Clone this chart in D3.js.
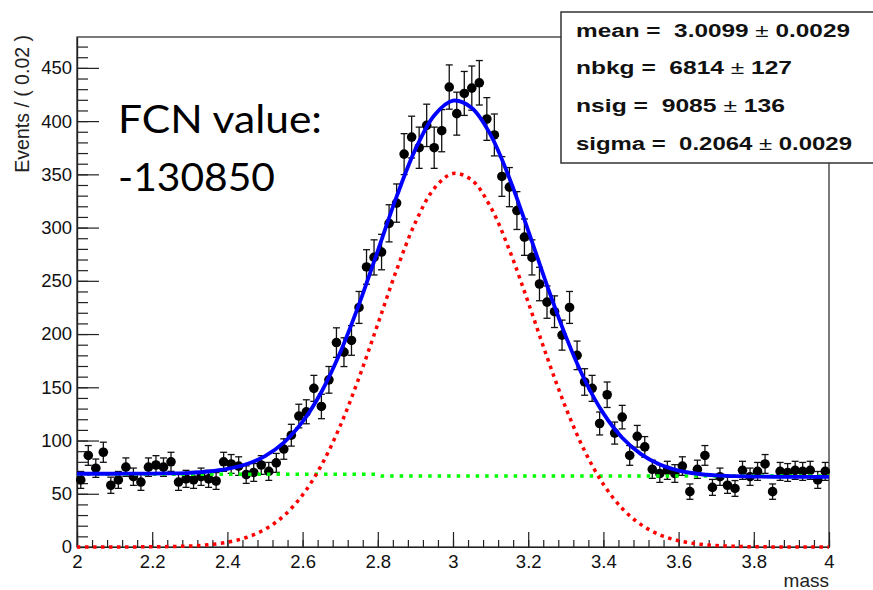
<!DOCTYPE html>
<html>
<head>
<meta charset="utf-8">
<script src="https://cdn.jsdelivr.net/npm/d3@7"></script>
<style>
  body { margin: 0; background: #fff; }
  text { font-family: "Liberation Sans", Arial, sans-serif; }
</style>
</head>
<body>
<div id="chart"></div>
<script>
const MARGIN = {top: 37, right: 44, bottom: 43, left: 77},
WIDTH = 873 - MARGIN.left - MARGIN.right,
HEIGHT = 590 - MARGIN.top - MARGIN.bottom;

// histogram, 100 bins of 0.02 from 2 to 4
const MASS_LO = 2, BIN_W = 0.02;
const counts = [
  63, 86, 74, 89, 58, 63, 75, 66, 61, 75,
  77, 75, 80, 61, 64, 63, 66, 64, 62, 80,
  78, 76, 68, 70, 77, 71, 79, 92, 105, 123,
  127, 149, 132, 157, 192, 183, 194, 225, 263, 272,
  277, 304, 323, 369, 385, 375, 396, 375, 391, 432,
  407, 426, 431, 436, 402, 387, 348, 338, 316, 291,
  272, 247, 230, 221, 199, 225, 180, 155, 149, 116,
  143, 107, 122, 86, 104, 94, 73, 69, 72, 69,
  76, 52, 73, 86, 56, 66, 58, 55, 72, 66,
  71, 78, 52, 71, 70, 72, 71, 72, 63, 71
];

const curveMass = [
  2.00, 2.05, 2.10, 2.15, 2.20, 2.25, 2.30, 2.35, 2.40, 2.45,
  2.50, 2.55, 2.60, 2.65, 2.70, 2.75, 2.80, 2.85, 2.90, 2.95,
  3.00, 3.05, 3.10, 3.15, 3.20, 3.25, 3.30, 3.35, 3.40, 3.45,
  3.50, 3.55, 3.60, 3.65, 3.70, 3.75, 3.80, 3.85, 3.90, 3.95, 4.00
];
const totalFit = [
  68.8, 68.8, 68.8, 68.9, 69.0, 69.2, 69.7, 70.9, 73.3, 77.7,
  85.4, 98.1, 117.7, 145.6, 182.6, 227.8, 278.2, 329.0, 373.4, 405.3,
  419.2, 412.4, 387.1, 346.5, 297.2, 245.7, 197.8, 157.1, 125.5, 102.6,
  87.2, 77.4, 71.8, 68.8, 67.2, 66.5, 66.1, 66.0, 65.9, 65.9, 65.9
];
const sigFit = [
  0.0, 0.0, 0.0, 0.1, 0.2, 0.4, 0.9, 2.1, 4.5, 8.9,
  16.6, 29.3, 48.9, 76.8, 113.8, 159.0, 209.4, 260.2, 304.8, 336.7,
  350.8, 344.6, 319.3, 278.9, 229.8, 178.5, 130.8, 90.3, 58.9, 36.2,
  21.0, 11.4, 5.9, 2.9, 1.3, 0.6, 0.2, 0.1, 0.0, 0.0, 0.0
];
const bkgMass = [2.0, 2.8, 2.81, 4.0];
const bkgFit = [68.3, 68.3, 66.8, 66.8];

const xTicks = [2, 2.2, 2.4, 2.6, 2.8, 3, 3.2, 3.4, 3.6, 3.8, 4];
const xTickLabels = ["2", "2.2", "2.4", "2.6", "2.8", "3", "3.2", "3.4", "3.6", "3.8", "4"];
const yTicks = [0, 50, 100, 150, 200, 250, 300, 350, 400, 450];
const yTickLabels = ["0", "50", "100", "150", "200", "250", "300", "350", "400", "450"];

const statLines = [
  {name: "mean", val: "3.0099", err: "0.0029"},
  {name: "nbkg", val: "6814", err: "127"},
  {name: "nsig", val: "9085", err: "136"},
  {name: "sigma", val: "0.2064", err: "0.0029"}
];
const statWidths = [274, 216, 209, 276];
const fcnLines = ["FCN value:", "-130850"];

var x = d3.scaleLinear()
        .domain([2, 4])
        .range([0, WIDTH]);

var y = d3.scaleLinear()
        .domain([0, 479])
        .range([HEIGHT, 0]);

const svg = d3.select('#chart')
        .append('svg')
        .attr('width', 873)
        .attr('height', 590);

const g = svg.append('g')
        .attr('transform', `translate(${MARGIN.left},${MARGIN.top})`);

// frame
g.append('rect')
        .attr('width', WIDTH)
        .attr('height', HEIGHT)
        .attr('fill', 'none')
        .attr('stroke', '#222')
        .attr('stroke-width', 1.2);

// x axis, ticks pointing inwards
const xAxis = d3.axisBottom(x)
        .tickValues(xTicks)
        .tickFormat((d, i) => xTickLabels[i])
        .tickSizeInner(-15)
        .tickSizeOuter(0)
        .tickPadding(8);

const xMinor = d3.axisBottom(x)
        .tickValues(d3.range(2, 4.001, 0.04))
        .tickFormat('')
        .tickSizeInner(-7)
        .tickSizeOuter(0);

const yAxis = d3.axisLeft(y)
        .tickValues(yTicks)
        .tickFormat((d, i) => yTickLabels[i])
        .tickSizeInner(-22)
        .tickSizeOuter(0)
        .tickPadding(5);

const yMinor = d3.axisLeft(y)
        .tickValues(d3.range(0, 471, 10))
        .tickFormat('')
        .tickSizeInner(-11)
        .tickSizeOuter(0);

g.append('g').attr('transform', `translate(0,${HEIGHT})`).call(xMinor);
g.append('g').attr('transform', `translate(0,${HEIGHT})`).classed('x_axis', true).call(xAxis);
g.append('g').call(yMinor);
g.append('g').classed('y_axis', true).call(yAxis);

g.selectAll('.domain').attr('stroke', '#222').attr('stroke-width', 1.2);
g.selectAll('.tick line').attr('stroke', '#222').attr('stroke-width', 1.2);
g.selectAll('.tick text')
        .attr('fill', '#111')
        .style('font-size', '18.5px');

// axis titles
g.append('text')
        .attr('x', WIDTH)
        .attr('y', HEIGHT + 40)
        .attr('text-anchor', 'end')
        .style('font-size', '19px')
        .attr('fill', '#222')
        .text('mass');

svg.append('text')
        .attr('transform', 'translate(29,35) rotate(-90)')
        .attr('text-anchor', 'end')
        .style('font-size', '19.5px')
        .attr('fill', '#222')
        .text('Events / ( 0.02 )');

// data points with poisson errors
const pts = counts.map((c, i) => ({m: MASS_LO + BIN_W * (i + 0.5), n: c}));

const pg = g.append('g').attr('id', 'data_points');
pg.selectAll('.err')
        .data(pts)
        .enter()
        .append('line')
        .attr('x1', d => x(d.m)).attr('x2', d => x(d.m))
        .attr('y1', d => y(d.n + Math.sqrt(d.n)))
        .attr('y2', d => y(d.n - Math.sqrt(d.n)))
        .attr('stroke', '#111').attr('stroke-width', 1.3);

['top', 'bot'].forEach(side => {
    pg.selectAll('.cap_' + side)
        .data(pts)
        .enter()
        .append('line')
        .attr('x1', d => x(d.m) - 3.5).attr('x2', d => x(d.m) + 3.5)
        .attr('y1', d => y(side == 'top' ? d.n + Math.sqrt(d.n) : d.n - Math.sqrt(d.n)))
        .attr('y2', d => y(side == 'top' ? d.n + Math.sqrt(d.n) : d.n - Math.sqrt(d.n)))
        .attr('stroke', '#111').attr('stroke-width', 1.3);
});

pg.selectAll('circle')
        .data(pts)
        .enter()
        .append('circle')
        .attr('cx', d => x(d.m))
        .attr('cy', d => y(d.n))
        .attr('r', 4.8)
        .attr('fill', '#000');

// fit curves
const line = d3.line()
        .x(d => x(d[0]))
        .y(d => y(d[1]))
        .curve(d3.curveCatmullRom.alpha(0.5));

g.append('path')
        .datum(bkgMass.map((m, i) => [m, bkgFit[i]]))
        .attr('d', d3.line().x(d => x(d[0])).y(d => y(d[1])))
        .attr('fill', 'none')
        .attr('stroke', '#00ff00')
        .attr('stroke-width', 3.5)
        .attr('stroke-dasharray', '3.5,6');

g.append('path')
        .datum(curveMass.map((m, i) => [m, totalFit[i]]))
        .attr('d', line)
        .attr('fill', 'none')
        .attr('stroke', '#0000ff')
        .attr('stroke-width', 3.8);

g.append('path')
        .datum(curveMass.map((m, i) => [m, sigFit[i]]))
        .attr('d', line)
        .attr('fill', 'none')
        .attr('stroke', '#ff0000')
        .attr('stroke-width', 3.5)
        .attr('stroke-dasharray', '3.5,4.5');

// stats box
svg.append('rect')
        .attr('x', 561)
        .attr('y', 12)
        .attr('width', 330)
        .attr('height', 151)
        .attr('fill', '#fff')
        .attr('stroke', '#333')
        .attr('stroke-width', 1.5);

statLines.forEach((s, i) => {
    let t = svg.append('text')
        .attr('x', 576)
        .attr('y', 36.5 + i * 37.7)
        .attr('textLength', statWidths[i])
        .attr('lengthAdjust', 'spacingAndGlyphs')
        .style('font-size', '18px')
        .style('font-weight', 'bold')
        .style('white-space', 'pre')
        .attr('fill', '#111');
    t.append('tspan').text(`${s.name} =\u00a0 ${s.val} `);
    t.append('tspan').style('font-weight', 'normal').text('\u00b1');
    t.append('tspan').text(` ${s.err}`);
});

// FCN annotation
const fcnLen = [204, 157];
fcnLines.forEach((l, i) => {
    svg.append('text')
        .attr('x', 118)
        .attr('y', 133 + i * 58)
        .attr('textLength', fcnLen[i])
        .attr('lengthAdjust', 'spacingAndGlyphs')
        .style('font-family', 'Lato, "Open Sans", sans-serif')
        .style('font-size', '38px')
        .attr('fill', '#000')
        .text(l);
});
</script>
</body>
</html>
